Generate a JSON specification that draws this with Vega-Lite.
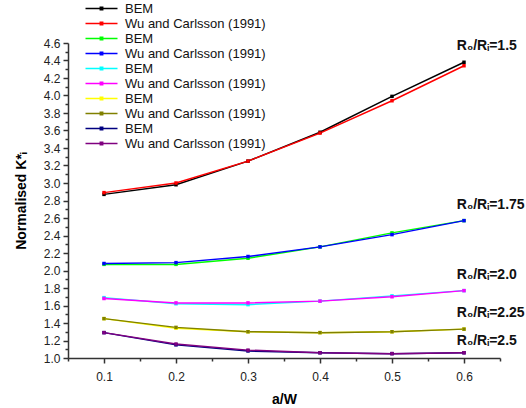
{
  "$schema": "https://vega.github.io/schema/vega-lite/v6.json",
  "autosize": {"type": "none"},
  "width": 432,
  "height": 315,
  "padding": {"left": 68, "top": 43, "right": 26, "bottom": 50},
  "background": "white",
  "config": {
    "view": {"stroke": null},
    "font": "Liberation Sans",
    "axis": {"labelFont": "Liberation Sans", "titleFont": "Liberation Sans", "labelColor": "#222", "domainColor": "#333", "tickColor": "#333", "grid": false}
  },
  "datasets": {
    "curves": [
      {"series": "BEM 1.5", "aw": 0.1, "k": 2.87}, {"series": "BEM 1.5", "aw": 0.2, "k": 2.98}, {"series": "BEM 1.5", "aw": 0.3, "k": 3.25}, {"series": "BEM 1.5", "aw": 0.4, "k": 3.58}, {"series": "BEM 1.5", "aw": 0.5, "k": 3.99}, {"series": "BEM 1.5", "aw": 0.6, "k": 4.38},
      {"series": "Wu 1.5", "aw": 0.1, "k": 2.89}, {"series": "Wu 1.5", "aw": 0.2, "k": 3.0}, {"series": "Wu 1.5", "aw": 0.3, "k": 3.25}, {"series": "Wu 1.5", "aw": 0.4, "k": 3.57}, {"series": "Wu 1.5", "aw": 0.5, "k": 3.94}, {"series": "Wu 1.5", "aw": 0.6, "k": 4.34},
      {"series": "BEM 1.75", "aw": 0.1, "k": 2.07}, {"series": "BEM 1.75", "aw": 0.2, "k": 2.07}, {"series": "BEM 1.75", "aw": 0.3, "k": 2.14}, {"series": "BEM 1.75", "aw": 0.4, "k": 2.27}, {"series": "BEM 1.75", "aw": 0.5, "k": 2.43}, {"series": "BEM 1.75", "aw": 0.6, "k": 2.57},
      {"series": "Wu 1.75", "aw": 0.1, "k": 2.08}, {"series": "Wu 1.75", "aw": 0.2, "k": 2.09}, {"series": "Wu 1.75", "aw": 0.3, "k": 2.16}, {"series": "Wu 1.75", "aw": 0.4, "k": 2.27}, {"series": "Wu 1.75", "aw": 0.5, "k": 2.41}, {"series": "Wu 1.75", "aw": 0.6, "k": 2.57},
      {"series": "BEM 2.0", "aw": 0.1, "k": 1.69}, {"series": "BEM 2.0", "aw": 0.2, "k": 1.62}, {"series": "BEM 2.0", "aw": 0.3, "k": 1.61}, {"series": "BEM 2.0", "aw": 0.4, "k": 1.65}, {"series": "BEM 2.0", "aw": 0.5, "k": 1.71}, {"series": "BEM 2.0", "aw": 0.6, "k": 1.77},
      {"series": "Wu 2.0", "aw": 0.1, "k": 1.68}, {"series": "Wu 2.0", "aw": 0.2, "k": 1.63}, {"series": "Wu 2.0", "aw": 0.3, "k": 1.63}, {"series": "Wu 2.0", "aw": 0.4, "k": 1.65}, {"series": "Wu 2.0", "aw": 0.5, "k": 1.7}, {"series": "Wu 2.0", "aw": 0.6, "k": 1.77},
      {"series": "BEM 2.25", "aw": 0.1, "k": 1.45}, {"series": "BEM 2.25", "aw": 0.2, "k": 1.34}, {"series": "BEM 2.25", "aw": 0.3, "k": 1.3}, {"series": "BEM 2.25", "aw": 0.4, "k": 1.29}, {"series": "BEM 2.25", "aw": 0.5, "k": 1.3}, {"series": "BEM 2.25", "aw": 0.6, "k": 1.33},
      {"series": "Wu 2.25", "aw": 0.1, "k": 1.45}, {"series": "Wu 2.25", "aw": 0.2, "k": 1.35}, {"series": "Wu 2.25", "aw": 0.3, "k": 1.3}, {"series": "Wu 2.25", "aw": 0.4, "k": 1.29}, {"series": "Wu 2.25", "aw": 0.5, "k": 1.3}, {"series": "Wu 2.25", "aw": 0.6, "k": 1.33},
      {"series": "BEM 2.5", "aw": 0.1, "k": 1.29}, {"series": "BEM 2.5", "aw": 0.2, "k": 1.15}, {"series": "BEM 2.5", "aw": 0.3, "k": 1.08}, {"series": "BEM 2.5", "aw": 0.4, "k": 1.06}, {"series": "BEM 2.5", "aw": 0.5, "k": 1.05}, {"series": "BEM 2.5", "aw": 0.6, "k": 1.06},
      {"series": "Wu 2.5", "aw": 0.1, "k": 1.29}, {"series": "Wu 2.5", "aw": 0.2, "k": 1.16}, {"series": "Wu 2.5", "aw": 0.3, "k": 1.09}, {"series": "Wu 2.5", "aw": 0.4, "k": 1.06}, {"series": "Wu 2.5", "aw": 0.5, "k": 1.05}, {"series": "Wu 2.5", "aw": 0.6, "k": 1.06}
    ],
    "labels": [
      {"aw": 0.59, "k": 4.57, "text": "R₀/Rᵢ=1.5"},
      {"aw": 0.59, "k": 2.75, "text": "R₀/Rᵢ=1.75"},
      {"aw": 0.59, "k": 1.95, "text": "R₀/Rᵢ=2.0"},
      {"aw": 0.59, "k": 1.51, "text": "R₀/Rᵢ=2.25"},
      {"aw": 0.59, "k": 1.19, "text": "R₀/Rᵢ=2.5"}
    ]
  },
  "layer": [
    {
      "data": {"name": "curves"},
      "mark": {"type": "line", "strokeWidth": 1.5},
      "encoding": {
        "x": {"field": "aw", "type": "quantitative", "scale": {"domain": [0.05, 0.65], "nice": false, "zero": false},
          "axis": {"orient": "bottom", "values": [0.05, 0.15, 0.25, 0.35, 0.45, 0.55, 0.65], "labels": false, "tickSize": 3, "tickWidth": 1.5, "domain": false, "title": null}},
        "y": {"field": "k", "type": "quantitative", "scale": {"domain": [1.0, 4.6], "nice": false, "zero": false},
          "axis": {"orient": "left", "values": [1.1, 1.3, 1.5, 1.7, 1.9, 2.1, 2.3, 2.5, 2.7, 2.9, 3.1, 3.3, 3.5, 3.7, 3.9, 4.1, 4.3, 4.5], "labels": false, "tickSize": 3, "tickWidth": 1.5, "domain": false, "title": null}},
        "color": {"field": "series", "type": "nominal",
          "scale": {"domain": ["BEM 1.5", "Wu 1.5", "BEM 1.75", "Wu 1.75", "BEM 2.0", "Wu 2.0", "BEM 2.25", "Wu 2.25", "BEM 2.5", "Wu 2.5"],
                    "range": ["#000000", "#ff0000", "#00ff00", "#0000ff", "#00ffff", "#ff00ff", "#ffff00", "#808000", "#000080", "#800080"]},
          "legend": {"orient": "none", "legendX": 27, "legendY": -41, "title": null, "padding": 0,
            "symbolType": "M -4 0 L 4 0 M -0.3 -0.3 L 0.3 -0.3 L 0.3 0.3 L -0.3 0.3 Z",
            "symbolSize": 64, "symbolStrokeWidth": 1.5, "rowPadding": 1, "labelOffset": 17,
            "labelFont": "Liberation Sans", "labelFontSize": 13, "labelColor": "#111", "labelLimit": 300,
            "labelExpr": "test(/BEM/, datum.label) ? 'BEM' : 'Wu and Carlsson (1991)'",
            "encode": {"symbols": {"update": {"fill": {"scale": "color", "field": "value"}, "stroke": {"scale": "color", "field": "value"}, "opacity": {"value": 1}}}}}},
        "detail": {"field": "series"}
      }
    },
    {
      "data": {"name": "curves"},
      "mark": {"type": "point", "filled": true, "shape": "square", "size": 12, "opacity": 1},
      "encoding": {
        "x": {"field": "aw", "type": "quantitative",
          "axis": {"orient": "bottom", "values": [0.1, 0.2, 0.3, 0.4, 0.5, 0.6], "format": ".1f", "tickSize": 5, "tickWidth": 1.5, "domainWidth": 1.5, "labelFontSize": 12, "labelPadding": 8, "title": "a/W", "titleFontSize": 14, "titleFontWeight": "bold", "titlePadding": 10}},
        "y": {"field": "k", "type": "quantitative",
          "axis": {"orient": "left", "values": [1.0, 1.2, 1.4, 1.6, 1.8, 2.0, 2.2, 2.4, 2.6, 2.8, 3.0, 3.2, 3.4, 3.6, 3.8, 4.0, 4.2, 4.4, 4.6], "format": ".1f", "tickSize": 5, "tickWidth": 1.5, "domainWidth": 1.5, "labelFontSize": 12, "labelPadding": 3, "title": "Normalised K*ᵢ", "titleFontSize": 14, "titleFontWeight": "bold", "titlePadding": 15}},
        "color": {"field": "series", "type": "nominal"}
      }
    },
    {
      "data": {"name": "labels"},
      "mark": {"type": "text", "align": "left", "baseline": "middle", "font": "Liberation Sans", "fontSize": 14, "fontWeight": "bold", "color": "#111"},
      "encoding": {
        "x": {"field": "aw", "type": "quantitative", "axis": null},
        "y": {"field": "k", "type": "quantitative", "axis": null},
        "text": {"field": "text"}
      }
    }
  ],
  "resolve": {"axis": {"x": "independent", "y": "independent"}}
}
